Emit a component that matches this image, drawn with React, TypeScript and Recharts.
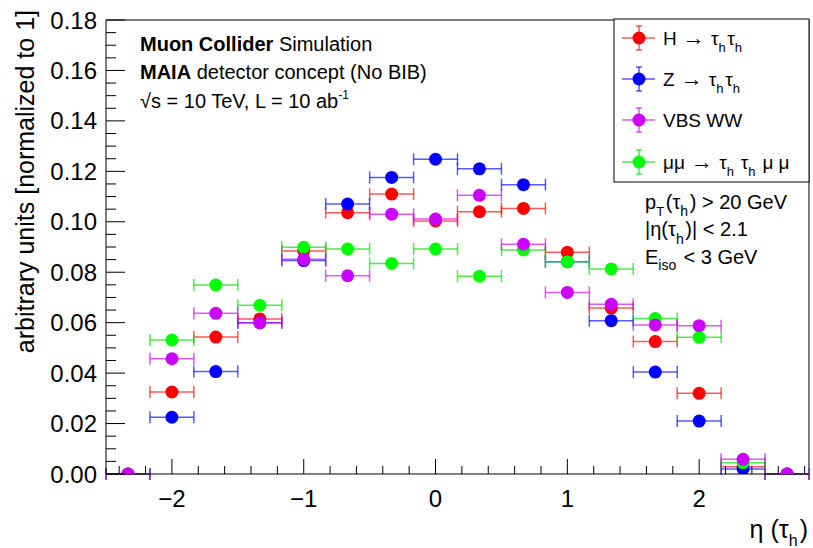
import React from 'react'
import { ComposedChart, Scatter, ErrorBar, XAxis, YAxis, ReferenceLine } from 'recharts'

// bin centres in eta(tau_h), bin width 1/3
const etaBins = [-2.333, -2, -1.667, -1.333, -1, -0.667, -0.333, 0, 0.333, 0.667, 1, 1.333, 1.667, 2, 2.333, 2.667]
const binHalfWidth = 1 / 6

const hTauTau = [0, 0.0325, 0.0543, 0.0615, 0.0884, 0.1036, 0.111, 0.1003, 0.104, 0.1053, 0.0879, 0.0658, 0.0525, 0.032, 0.0029, 0]
const zTauTau = [0, 0.0225, 0.0406, 0.06, 0.0846, 0.107, 0.1176, 0.1248, 0.121, 0.1147, 0.0842, 0.0608, 0.0404, 0.021, 0.002, 0]
const vbsWW = [0, 0.0457, 0.0637, 0.06, 0.0851, 0.0786, 0.103, 0.1011, 0.1105, 0.0911, 0.072, 0.0673, 0.0591, 0.0588, 0.0058, 0]
const muMu = [0, 0.0531, 0.0749, 0.0669, 0.0899, 0.0892, 0.0835, 0.0892, 0.0784, 0.0888, 0.0842, 0.0813, 0.0617, 0.0542, 0.0045, 0]

const xTicks = [-2.4, -2.2, -2, -1.8, -1.6, -1.4, -1.2, -1, -0.8, -0.6, -0.4, -0.2, 0, 0.2, 0.4, 0.6, 0.8, 1, 1.2, 1.4, 1.6, 1.8, 2, 2.2, 2.4, 2.6, 2.8]
const yMajorTicks = [0, 0.02, 0.04, 0.06, 0.08, 0.1, 0.12, 0.14, 0.16, 0.18]
const yTicks: number[] = []
for (let i = 0; i <= 36; i++) yTicks.push(i * 0.005)

const FONT = '"Liberation Sans", Arial, Helvetica, sans-serif'

const series = [
  { name: 'H', values: hTauTau, color: '#ff0000', bar: 'rgba(255,0,0,0.65)' },
  { name: 'Z', values: zTauTau, color: '#0000ff', bar: 'rgba(0,0,255,0.65)' },
  { name: 'mumu', values: muMu, color: '#00ff00', bar: 'rgba(0,230,0,0.7)' },
  { name: 'VBS', values: vbsWW, color: '#cc00ff', bar: 'rgba(204,0,255,0.65)' },
]

const legendRows = [
  { color: '#ff0000', bar: 'rgba(255,0,0,0.65)', y: 38 },
  { color: '#0000ff', bar: 'rgba(0,0,255,0.65)', y: 79 },
  { color: '#cc00ff', bar: 'rgba(204,0,255,0.65)', y: 120 },
  { color: '#00ff00', bar: 'rgba(0,230,0,0.7)', y: 162 },
]

function XTick(props: any) {
  const { x, y, payload } = props
  const v = payload.value
  const major = Math.abs(v - Math.round(v)) < 1e-6
  return (
    <g>
      <line x1={x} x2={x} y1={y} y2={y - (major ? 15 : 8)} stroke="#000" strokeWidth={1} />
      {major && (
        <text x={x} y={y + 33} textAnchor="middle" fontSize={24} fontFamily={FONT} fill="#000">
          {v < 0 ? '\u2212' + Math.abs(Math.round(v)) : String(Math.round(v))}
        </text>
      )}
    </g>
  )
}

function YTick(props: any) {
  const { x, y, payload } = props
  const v = payload.value
  const major = yMajorTicks.some((t) => Math.abs(t - v) < 1e-6)
  return (
    <g>
      <line x1={x} x2={x + (major ? 19 : 10)} y1={y} y2={y} stroke="#000" strokeWidth={1} />
      {major && (
        <text x={x - 9} y={y + 8.5} textAnchor="end" fontSize={24} fontFamily={FONT} fill="#000">
          {v.toFixed(2)}
        </text>
      )}
    </g>
  )
}

const Sub = ({ t, size = 13, d = 7 }: { t: string; size?: number; d?: number }) => (
  <>
    <tspan dy={d} fontSize={size}>{t}</tspan>
    <tspan dy={-d}>{'\u200a'}</tspan>
  </>
)

const Arrow = () => <tspan fontSize={22}>{' \u2192 '}</tspan>

function Overlay() {
  return (
    <svg width={813} height={548} style={{ position: 'absolute', left: 0, top: 0, pointerEvents: 'none' }} fontFamily={FONT}>
      {/* top-left labels */}
      <text x={140} y={51} fontSize={20}>
        <tspan fontWeight="bold">Muon Collider</tspan> Simulation
      </text>
      <text x={140} y={79} fontSize={20}>
        <tspan fontWeight="bold">MAIA</tspan> detector concept (No BIB)
      </text>
      <text x={140} y={108} fontSize={20}>
        {'\u221as = 10 TeV, L = 10 ab'}
        <tspan dy={-9} fontSize={12}>-1</tspan>
      </text>

      {/* legend */}
      <rect x={614} y={19} width={195} height={163} fill="#fff" stroke="#000" strokeWidth={1} />
      {legendRows.map((r, i) => (
        <g key={i}>
          <line x1={622} x2={655} y1={r.y} y2={r.y} stroke={r.bar} strokeWidth={1.5} />
          <line x1={639} x2={639} y1={r.y - 12} y2={r.y + 12} stroke={r.bar} strokeWidth={1.5} />
          <line x1={636} x2={642} y1={r.y - 12} y2={r.y - 12} stroke={r.bar} strokeWidth={1.5} />
          <line x1={636} x2={642} y1={r.y + 12} y2={r.y + 12} stroke={r.bar} strokeWidth={1.5} />
          <circle cx={639} cy={r.y} r={6.5} fill={r.color} />
        </g>
      ))}
      <text x={663} y={45} fontSize={19}>
        {'H'}
        <Arrow />
        {'\u03c4'}
        <Sub t="h" />
        {'\u03c4'}
        <Sub t="h" />
      </text>
      <text x={663} y={86} fontSize={19}>
        {'Z'}
        <Arrow />
        {'\u03c4'}
        <Sub t="h" />
        {'\u03c4'}
        <Sub t="h" />
      </text>
      <text x={663} y={127} fontSize={19}>VBS WW</text>
      <text x={663} y={169} fontSize={19}>
        {'\u03bc\u03bc'}
        <Arrow />
        {'\u03c4'}
        <Sub t="h" />
        {' \u03c4'}
        <Sub t="h" />
        {' \u03bc \u03bc'}
      </text>

      {/* selection */}
      <text x={645} y={209} fontSize={20}>
        {'p'}
        <Sub t="T" size={13} d={7} />
        {'(\u03c4'}
        <Sub t="h" size={14} d={7} />
        {') > 20 GeV'}
      </text>
      <text x={645} y={236} fontSize={20}>
        {'|\u03b7(\u03c4'}
        <Sub t="h" size={14} d={8} />
        {')| < 2.1'}
      </text>
      <text x={645} y={264} fontSize={20}>
        {'E'}
        <Sub t="iso" size={14} d={6} />
        {' < 3 GeV'}
      </text>

      {/* axis titles */}
      <text x={808} y={538} fontSize={25} textAnchor="end">
        {'\u03b7 (\u03c4'}
        <Sub t="h" size={16} d={8} />
        {')'}
      </text>
      <text x={34} y={10} fontSize={25} textAnchor="end" transform="rotate(-90 34 10)">
        arbitrary units [normalized to 1]
      </text>
    </svg>
  )
}

export default function App() {
  return (
    <div style={{ position: 'absolute', left: 0, top: 0, width: 813, height: 548, background: '#fff' }}>
      <ComposedChart width={813} height={548} margin={{ top: 20, right: 4, left: 0, bottom: 0 }}>
        <XAxis
          type="number"
          dataKey="x"
          domain={[-2.5, 2.8333]}
          ticks={xTicks}
          interval={0}
          tick={<XTick />}
          tickLine={false}
          tickSize={0}
          tickMargin={0}
          height={74}
          allowDataOverflow
          axisLine={{ stroke: '#000', strokeWidth: 1 }}
        />
        <YAxis
          type="number"
          dataKey="y"
          domain={[0, 0.18]}
          ticks={yTicks}
          interval={0}
          tick={<YTick />}
          tickLine={false}
          tickSize={0}
          tickMargin={0}
          width={106}
          allowDataOverflow
          axisLine={{ stroke: '#000', strokeWidth: 1 }}
        />
        <ReferenceLine y={0.18} stroke="#000" strokeWidth={1} />
        <ReferenceLine x={2.8333} stroke="#000" strokeWidth={1} />
        {series.map((s) => (
          <Scatter
            key={s.name}
            data={etaBins.map((x, i) => ({ x, y: s.values[i], ex: binHalfWidth }))}
            dataKey="y"
            isAnimationActive={false}
            shape={(p: any) => <circle cx={p.cx} cy={p.cy} r={6.5} fill={s.color} />}
          >
            <ErrorBar dataKey="ex" direction="x" width={6} stroke={s.bar} strokeWidth={1.5} isAnimationActive={false} />
          </Scatter>
        ))}
      </ComposedChart>
      <Overlay />
    </div>
  )
}
